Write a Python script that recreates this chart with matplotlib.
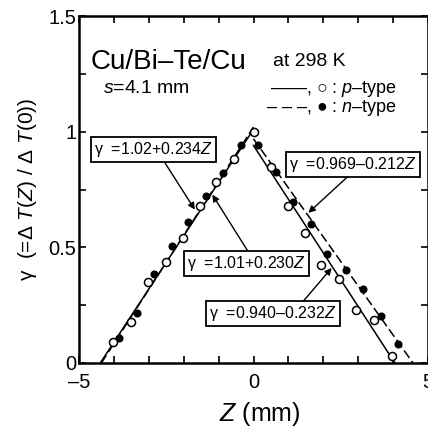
import matplotlib
matplotlib.use("Agg")
import matplotlib.pyplot as plt
import numpy as np
from matplotlib.ticker import MultipleLocator, FuncFormatter

plt.rcParams['font.family'] = ['Liberation Sans', 'DejaVu Sans']
plt.rcParams['mathtext.fontset'] = 'custom'
plt.rcParams['mathtext.rm'] = 'Liberation Sans'
plt.rcParams['mathtext.it'] = 'Liberation Sans:italic'

# p-type (open circles)
zp_left = [-4.02, -3.52, -3.03, -2.52, -2.02, -1.54, -1.07, -0.56, 0.0]
gp_left = [0.089, 0.179, 0.352, 0.435, 0.540, 0.677, 0.784, 0.882, 1.0]
zp_right = [0.49, 0.98, 1.48, 1.94, 2.46, 2.95, 3.46, 3.96]
gp_right = [0.846, 0.677, 0.562, 0.425, 0.362, 0.230, 0.184, 0.032]

# n-type (filled circles)
zn_left = [-3.84, -3.34, -2.84, -2.33, -1.87, -1.36, -0.87, -0.35]
gn_left = [0.108, 0.216, 0.385, 0.507, 0.611, 0.720, 0.822, 0.941]
zn_right = [0.13, 0.64, 1.14, 1.64, 2.12, 2.64, 3.14, 3.64, 4.14]
gn_right = [0.941, 0.824, 0.696, 0.601, 0.471, 0.404, 0.321, 0.202, 0.082]

# fitted lines: (intercept, slope, side, style)
fits = [
    (1.01, 0.230, 'left', '-'),
    (1.02, 0.234, 'left', '--'),
    (0.940, -0.232, 'right', '-'),
    (0.969, -0.212, 'right', '--'),
]

fig = plt.figure(figsize=(4.28, 4.28), dpi=100)
ax = fig.add_axes([79/428, 65/428, 349/428, 347/428])

for a, b, side, ls in fits:
    z0 = -a / b
    zs = np.array([z0, 0.0]) if side == 'left' else np.array([0.0, z0])
    if ls == '--':
        ax.plot(zs, a + b*zs, color='black', lw=1.1, ls='--', dashes=(6, 2.5))
    else:
        ax.plot(zs, a + b*zs, color='black', lw=1.1)

ax.plot(zn_left + zn_right, gn_left + gn_right, 'o', ms=4.8, mfc='black', mec='black', mew=1.0, zorder=3)
ax.plot(zp_left + zp_right, gp_left + gp_right, 'o', ms=5.8, mfc='white', mec='black', mew=1.1, zorder=4)

ax.set_xlim(-5, 5)
ax.set_ylim(0, 1.5)
ax.xaxis.set_major_locator(MultipleLocator(1))
ax.yaxis.set_major_locator(MultipleLocator(0.25))
ax.xaxis.set_major_formatter(FuncFormatter(lambda v, p: ('%g' % v).replace('-', '\u2013') if abs(v) % 5 < 1e-6 else ''))
ax.yaxis.set_major_formatter(FuncFormatter(lambda v, p: '%g' % v if abs(v*2 - round(v*2)) < 1e-6 else ''))
ax.tick_params(direction='in', length=5, width=1.2, top=True, right=True, labelsize=14.5)
ax.tick_params(axis='x', pad=7)
ax.tick_params(axis='y', pad=2)
for s in ax.spines.values():
    s.set_linewidth(1.8)

ax.set_xlabel('$Z$ (mm)', fontsize=18)
ax.xaxis.set_label_coords(0.519, -0.107)
ax.xaxis.label.set_va('top')
ax.set_ylabel('\u03b3  (=\u0394 $T$($Z$) / \u0394 $T$(0))', fontsize=15)
ax.yaxis.set_label_coords(-0.115, 0.5)

ax.text(-4.67, 1.272, 'Cu/Bi\u2013Te/Cu', fontsize=20)
ax.text(0.55, 1.283, 'at 298 K', fontsize=14)
ax.text(-4.31, 1.168, '$s$=4.1 mm', fontsize=14)
ax.text(4.12, 1.168, '\u2014\u2014, \u25cb : $p$\u2013type', fontsize=13, ha='right')
ax.text(4.12, 1.084, '\u2013 \u2013 \u2013, \u25cf : $n$\u2013type', fontsize=13, ha='right')

boxes = [
    ('\u03b3  =1.02+0.234$Z$', (-2.86, 0.923), (-2.60, 0.880), (-1.68, 0.663)),
    ('\u03b3  =1.01+0.230$Z$', (-0.20, 0.429), (-0.16, 0.483), (-1.18, 0.728)),
    ('\u03b3  =0.969\u20130.212$Z$', (2.84, 0.858), (2.71, 0.807), (1.57, 0.649)),
    ('\u03b3  =0.940\u20130.232$Z$', (0.55, 0.214), (1.42, 0.266), (2.24, 0.411)),
]
for txt, c, start, tip in boxes:
    ax.annotate('', xy=tip, xytext=start,
                arrowprops=dict(arrowstyle='-|>', color='black', lw=1.0,
                                mutation_scale=10, shrinkA=0, shrinkB=0), zorder=5)
    ax.text(c[0], c[1], txt, fontsize=11.5, ha='center', va='center', zorder=6,
            bbox=dict(boxstyle='square,pad=0.2', fc='white', ec='black', lw=1.3))

fig.savefig('out.png', dpi=100)
